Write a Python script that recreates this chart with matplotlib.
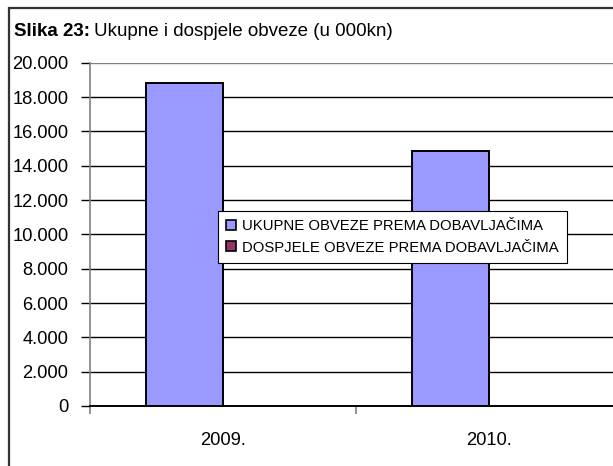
import numpy as np
import matplotlib
matplotlib.use('Agg')
import matplotlib.pyplot as plt
from matplotlib.patches import Patch, Rectangle
from matplotlib.ticker import FuncFormatter

plt.rcParams['font.family'] = ['Liberation Sans', 'DejaVu Sans']

# data
years = ['2009.', '2010.']
ukupne = [18830, 14870]      # ukupne obveze prema dobavljacima
dospjele = [0, 0]            # dospjele obveze prema dobavljacima
series_names = ['UKUPNE OBVEZE PREMA DOBAVLJAČIMA', 'DOSPJELE OBVEZE PREMA DOBAVLJAČIMA']
colors = ['#9999FF', '#993366']

W, H = 613, 466
fig = plt.figure(figsize=(W / 100, H / 100), dpi=100)

# outer chart frame (right/bottom run off the picture)
fig.patches.append(Rectangle((9 / W, -0.05), 1.0, 1 - 8 / H + 0.05,
                             transform=fig.transFigure, fill=False,
                             edgecolor='#333333', linewidth=1.6))

ax = fig.add_axes([90 / W, 60 / H, 532 / W, (406 - 62.7) / H])

cats = np.arange(len(years))
bw = 0.289
off = 0.1447
ax.bar(cats + 0.5 - off, ukupne, width=bw, color=colors[0], edgecolor='black',
       linewidth=1.4, zorder=3)
ax.bar(cats + 0.5 + off, dospjele, width=bw, color=colors[1], edgecolor='none',
       linewidth=0, zorder=3)

ax.set_xlim(0, 2)
ax.set_ylim(0, 20000)
ax.set_yticks(np.arange(0, 20001, 2000))
ax.yaxis.set_major_formatter(FuncFormatter(lambda v, p: f'{int(v):,}'.replace(',', '.')))
ax.grid(axis='y', color='black', linewidth=1.0, zorder=0)
ax.set_axisbelow(True)

ax.set_xticks([0, 1, 2])
ax.set_xticklabels([])
ax.set_xticks(cats + 0.5, minor=True)
ax.set_xticklabels(years, minor=True)
ax.tick_params(axis='x', which='major', direction='out', length=6, color='#808080', width=1.2)
ax.tick_params(axis='x', which='minor', length=0, pad=19, labelsize=13.2)
ax.tick_params(axis='y', direction='out', length=6.5, color='black', width=1.0,
               pad=9, labelsize=13.2)

for s in ['top', 'right']:
    ax.spines[s].set_visible(False)
ax.spines['left'].set_color('#808080')
ax.spines['left'].set_linewidth(1.2)
ax.spines['bottom'].set_color('black')
ax.spines['bottom'].set_linewidth(1.4)
ax.get_ygridlines()[-1].set_color('#808080')

# title: bold prefix, then normal text right after it
t1 = fig.text(14 / W, 1 - 31 / H, 'Slika 23:', fontsize=13.5, fontweight='bold', va='center')
fig.canvas.draw()
bb = t1.get_window_extent()
fig.text((bb.x1 + 4) / W, 1 - 31 / H, 'Ukupne i dospjele obveze (u 000kn)',
         fontsize=13.5, va='center')

handles = [Patch(facecolor=colors[0], edgecolor='black', linewidth=1.2),
           Patch(facecolor=colors[1], edgecolor='black', linewidth=1.2)]
leg = fig.legend(handles, series_names, loc='upper left',
                 bbox_to_anchor=(218 / W, 1 - 211 / H), fontsize=10.7,
                 frameon=True, fancybox=False, framealpha=1, edgecolor='black',
                 handlelength=0.65, handleheight=0.65, handletextpad=0.4,
                 borderpad=0.55, labelspacing=0.5, borderaxespad=0)
leg.get_frame().set_linewidth(0.8)

fig.savefig('out.png', dpi=100)
